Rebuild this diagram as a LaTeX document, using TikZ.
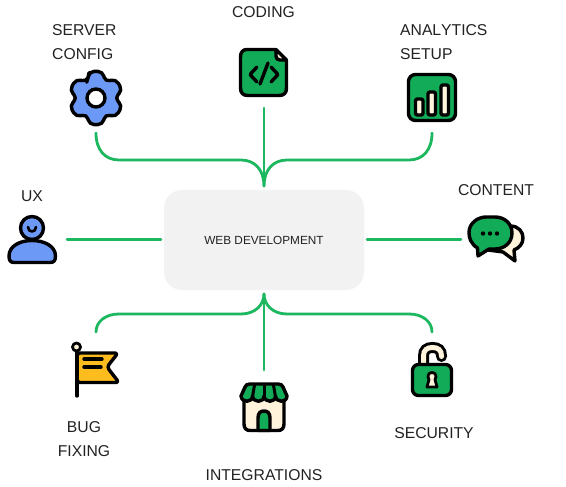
\documentclass[tikz,border=0pt]{standalone}
\usepackage{fontspec}
\setmainfont{Liberation Sans}
\definecolor{linkgreen}{HTML}{1DB75F}
\definecolor{iconGreen}{HTML}{12AB58}
\definecolor{iconBlue}{HTML}{6C98F6}
\definecolor{iconCream}{HTML}{FFF3DC}
\definecolor{iconYellow}{HTML}{FFBC1F}
\definecolor{boxGrey}{HTML}{F2F2F2}
\definecolor{inkText}{HTML}{222222}
\tikzset{
  link/.style={draw=linkgreen,line width=2.8pt,line cap=round},
  ico/.style={draw=black,line width=3.4pt,line join=round,line cap=round},
  lbl/.style={inner sep=0pt,text=inkText,font=\fontsize{15.7}{18}\selectfont},
}
\begin{document}
\begin{tikzpicture}[x=1pt,y=-1pt]
\useasboundingbox (0,0) rectangle (566,487);
\fill[white] (0,0) rectangle (566,487);
% centre
\node[fill=boxGrey,rounded corners=18pt,minimum width=200pt,minimum height=100pt,inner sep=0pt,text=inkText,font=\fontsize{11.8}{14}\selectfont] (hub) at (264,240) {WEB DEVELOPMENT};
% connector ends
\coordinate (hubT) at (264,186);
\coordinate (hubB) at (264,294);
\coordinate (hubL) at (161,239.5);
\coordinate (hubR) at (367,239.5);
\coordinate (cfgEnd) at (96,133);
\coordinate (codeEnd) at (264,108);
\coordinate (statEnd) at (432,133);
\coordinate (uxEnd) at (67,239.5);
\coordinate (chatEnd) at (461,239.5);
\coordinate (bugEnd) at (96,332);
\coordinate (shopEnd) at (264,370);
\coordinate (lockEnd) at (432,332);
\draw[link] (codeEnd) -- (hubT);
\draw[link] (cfgEnd) .. controls (96,150) and (105,160) .. (119,160) -- (241,160) .. controls (255,160) and (264,170) .. (hubT);
\draw[link] (statEnd) .. controls (432,150) and (423,160) .. (409,160) -- (287,160) .. controls (273,160) and (264,170) .. (hubT);
\draw[link] (uxEnd) -- (hubL);
\draw[link] (hubR) -- (chatEnd);
\draw[link] (shopEnd) -- (hubB);
\draw[link] (bugEnd) .. controls (96,322) and (105,314) .. (119,314) -- (241,314) .. controls (255,314) and (264,305) .. (hubB);
\draw[link] (lockEnd) .. controls (432,322) and (423,314) .. (409,314) -- (287,314) .. controls (273,314) and (264,305) .. (hubB);
% labels
\node[lbl,anchor=west] (l1a) at (52,30.5) {SERVER};
\node[lbl,anchor=west] (l1b) at (52,54.5) {CONFIG};
\node[lbl] (l2) at (263.5,12.5) {CODING};
\node[lbl,anchor=west] (l3a) at (400,30.5) {\addfontfeatures{Kerning=Off}ANALYTICS};
\node[lbl,anchor=west] (l3b) at (400,54.5) {SETUP};
\node[lbl] (l4) at (32,196.5) {UX};
\node[lbl] (l5) at (496,190.5) {CONTENT};
\node[lbl] (l6a) at (84,427.5) {BUG};
\node[lbl] (l6b) at (84,451.5) {FIXING};
\node[lbl] (l7) at (264,475.5) {INTEGRATIONS};
\node[lbl] (l8) at (434,433.5) {SECURITY};
% gear
\begin{scope}[shift={(96,98)}]
\draw[ico,fill=iconBlue,rounded corners=5pt,y=1pt]
  (111:22)
  \foreach \a in {90,30,-30,-90,-150,150}{
    -- ({\a+14}:27.5) -- ({\a-14}:27.5) -- ({\a-30}:18.5)
  } -- cycle;
\draw[ico,fill=white] (0,0) circle[radius=9pt];
\end{scope}
% code file
\draw[ico,fill=iconGreen] (247,49.5) -- (275,49.5) -- (286.5,61) -- (286.5,88) .. controls (286.5,93) and (284,95.5) .. (279,95.5) -- (248,95.5) .. controls (243,95.5) and (240.5,93) .. (240.5,88) -- (240.5,57) .. controls (240.5,52) and (243,49.5) .. (247,49.5) -- cycle;
\draw[ico,fill=iconCream] (276,49.5) -- (286.5,60) -- (280,60) .. controls (277.5,60) and (276,58.5) .. (276,56) -- cycle;
\draw[ico] (257,67) -- (250,74.5) -- (257,82);
\draw[ico] (271,67) -- (278,74.5) -- (271,82);
\draw[ico] (268,63) -- (260,84);
% analytics
\draw[ico,fill=iconGreen,rounded corners=7pt] (408.5,74.5) rectangle (455.5,120.5);
\draw[ico,fill=iconCream,rounded corners=2pt] (415.5,99) rectangle (423,115);
\draw[ico,fill=iconCream,rounded corners=2pt] (428,92) rectangle (435.5,115);
\draw[ico,fill=iconCream,rounded corners=2pt] (441,85) rectangle (448.5,115);
% user
\draw[ico,fill=iconBlue] (9,256) .. controls (9,246) and (20,240.5) .. (32,240.5) .. controls (44,240.5) and (55.5,246) .. (55.5,256) .. controls (55.5,260.5) and (54,262.5) .. (50,262.5) -- (14,262.5) .. controls (10.5,262.5) and (9,260.5) .. (9,256) -- cycle;
\draw[ico,fill=iconBlue] (32,228) circle[radius=11.5pt];
\draw[ico,line width=2.6pt] (28,227) .. controls (28,233) and (36,233) .. (36,227);
% chat
\draw[ico,fill=iconCream] (495,226) -- (510,226) .. controls (519,226) and (523,232) .. (523,238) .. controls (523,244) and (519,248) .. (514,250) -- (515,261) -- (503,252) -- (488,250) -- cycle;
\draw[ico,fill=iconGreen] (478,256) -- (477.5,248) .. controls (471,244) and (469,238) .. (469,232.5) .. controls (469,223) and (478,217) .. (486,217) -- (495,217) .. controls (505,217) and (512,224) .. (512,233) .. controls (512,243) and (504,249) .. (495,249) -- (489,249) -- cycle;
\fill[black] (483,233.5) circle[radius=2.2pt] (490,233.5) circle[radius=2.2pt] (497,233.5) circle[radius=2.2pt];
% flag
\draw[ico,fill=iconYellow,rounded corners=3pt] (77,353) -- (118,353) -- (107,367) -- (119,382.5) -- (77,382.5) -- cycle;
\draw[ico] (77,352) -- (77,396);
\draw[ico,fill=iconCream,line width=2.8pt] (76.5,347) circle[radius=4pt];
\draw[ico] (84,359) -- (102,359);
\draw[ico] (84,367) -- (101,367);
% store
\draw[ico,fill=iconCream] (244,397) -- (244,424) .. controls (244,428) and (246,430.5) .. (250,430.5) -- (278,430.5) .. controls (282,430.5) and (284,428) .. (284,424) -- (284,397) -- cycle;
\draw[ico,fill=iconGreen] (258,430.5) -- (258,418) .. controls (258,413) and (260.5,411) .. (264,411) .. controls (267.5,411) and (270,413) .. (270,418) -- (270,430.5) -- cycle;
\draw[ico,fill=iconGreen] (250,384) -- (278,384) .. controls (281,384) and (282,385) .. (283,387) -- (287,396)
  .. controls (287,403) and (276,403) .. (275.5,396)
  .. controls (275.5,403) and (264.5,403) .. (264,396)
  .. controls (264,403) and (253,403) .. (252.5,396)
  .. controls (252.5,403) and (241.5,403) .. (241,396)
  -- (245,387) .. controls (246,385) and (247,384) .. (250,384) -- cycle;
\draw[ico,line width=3pt] (254.5,385) -- (252.5,397);
\draw[ico,line width=3pt] (264,385) -- (264,397);
\draw[ico,line width=3pt] (273.5,385) -- (275.5,397);
% lock
\draw[draw=black,line width=11pt,line cap=round] (423.5,365) -- (423.5,356) .. controls (423.5,350) and (427,347.5) .. (432.5,347.5) .. controls (438,347.5) and (441.5,350) .. (441.5,356) -- (441.5,356.5);
\draw[draw=iconCream,line width=5pt,line cap=round] (423.5,364) -- (423.5,356) .. controls (423.5,350) and (427,347.5) .. (432.5,347.5) .. controls (438,347.5) and (441.5,350) .. (441.5,356) -- (441.5,356.5);
\draw[ico,fill=iconGreen,rounded corners=6pt] (412.5,364.5) rectangle (451.5,395.5);
\draw[ico,fill=iconCream,line width=2.8pt] (429,379.5) .. controls (427,377) and (428,372.5) .. (432,372.5) .. controls (436,372.5) and (437,377) .. (435,379.5) -- (437,387) -- (427,387) -- cycle;
\end{tikzpicture}
\end{document}
